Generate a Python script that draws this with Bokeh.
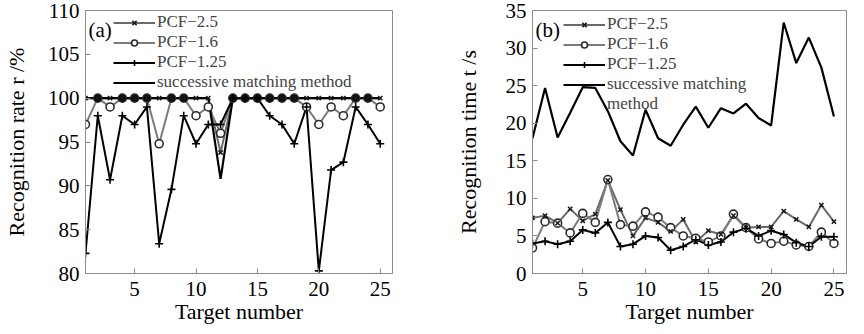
from bokeh.plotting import figure
from bokeh.layouts import row
from bokeh.models import Legend, LegendItem, Label, FixedTicker
from bokeh.embed import file_html
from bokeh.resources import INLINE

# ---------------- data ----------------
targets = list(range(1, 26))

series_names = ["PCF\u22122.5", "PCF\u22121.6", "PCF\u22121.25", "successive matching method"]
series_names_b = ["PCF\u22122.5", "PCF\u22121.6", "PCF\u22121.25", "successive matching", "method"]

rate_pcf25 = [100, 100, 100, 100, 100, 100, 100, 100, 100, 100, 100, 93.8, 100,
              100, 100, 100, 100, 100, 100, 100, 100, 100, 100, 100, 100]
rate_pcf16 = [97, 100, 99, 100, 100, 100, 94.8, 100, 100, 98, 99, 96, 100,
              100, 100, 100, 100, 100, 99, 97, 99, 98, 100, 100, 99]
rate_pcf125 = [82.3, 98, 90.7, 98, 97, 99, 83.4, 89.6, 98, 94.8, 97, 97, 100,
               100, 100, 98, 97, 94.8, 99, 80.3, 91.8, 92.7, 99, 97, 94.8]
rate_smm = [100, 100, 100, 100, 100, 100, 100, 100, 100, 100, 100, 90.8, 100,
            100, 100, 100, 100, 100, 100, 100, 100, 100, 100, 100, 100]

time_pcf25 = [7.4, 7.7, 6.7, 8.6, 7.0, 7.9, 12.4, 8.5, 5.0, 7.4, 6.8, 5.6, 7.2,
              4.2, 5.7, 5.2, 7.7, 6.1, 6.2, 6.2, 8.3, 7.2, 6.2, 9.1, 6.9]
time_pcf16 = [3.4, 6.9, 6.7, 5.4, 8.0, 6.8, 12.5, 6.5, 6.3, 8.2, 7.5, 6.1, 5.0,
              4.7, 4.2, 5.0, 7.9, 6.1, 4.6, 4.0, 4.3, 3.8, 3.6, 5.5, 4.0]
time_pcf125 = [4.0, 4.3, 3.9, 4.3, 5.8, 5.4, 6.8, 3.6, 3.9, 5.0, 4.8, 3.1, 3.6,
               4.5, 3.8, 4.2, 5.5, 6.0, 5.0, 5.7, 5.2, 4.1, 3.6, 4.9, 4.9]
time_smm = [18.0, 24.7, 18.1, 21.4, 24.8, 24.7, 21.6, 17.6, 15.7, 21.8, 18.0, 17.0, 19.8,
            22.2, 19.4, 22.0, 21.3, 22.6, 20.7, 19.7, 33.4, 28.0, 31.4, 27.4, 20.9]

x_ticks = [5, 10, 15, 20, 25]
rate_ticks = [80, 85, 90, 95, 100, 105, 110]
time_ticks = [0, 5, 10, 15, 20, 25, 30, 35]

FONT = "Liberation Serif"
FRAME = "#8c8c8c"
TOP = 10
FRAME_BOTTOM = 274   # expected page y of the frame's bottom edge
FRAME_TOP = 8 + TOP
FRAME_H = FRAME_BOTTOM - FRAME_TOP


def make_panel(tag, ylabel, y_rng, y_ticks, s25, s16, s125, smm, fill_full,
               border_left, border_right, label_standoff, legend_names, legend_x,
               legend_y):
    p = figure(width=424, height=326, x_range=(1, 26), y_range=y_rng,
               output_backend="svg", toolbar_location=None,
               min_border_left=border_left, min_border_right=border_right,
               min_border_top=TOP, min_border_bottom=50)
    p.grid.visible = False
    p.outline_line_color = FRAME
    p.outline_line_width = 1
    p.background_fill_color = "white"
    p.border_fill_color = "white"

    p.xaxis.ticker = FixedTicker(ticks=x_ticks)
    p.yaxis.ticker = FixedTicker(ticks=y_ticks)
    for ax in (p.xaxis[0], p.yaxis[0]):
        ax.axis_line_color = FRAME
        ax.major_tick_line_color = FRAME
        ax.major_tick_in = 5
        ax.major_tick_out = 0
        ax.minor_tick_line_color = None
        ax.major_label_text_font = FONT
        ax.major_label_text_font_size = "21px"
        ax.major_label_text_color = "black"
        ax.axis_label_text_font = FONT
        ax.axis_label_text_font_size = "22px"
        ax.axis_label_text_font_style = "normal"
        ax.axis_label_text_color = "black"
    p.xaxis.axis_label = "Target number"
    p.xaxis.major_label_text_line_height = 0.9
    p.xaxis.axis_label_text_line_height = 0.9
    p.xaxis.major_label_standoff = 8
    p.xaxis.axis_label_standoff = 0
    p.yaxis.axis_label = ylabel
    p.yaxis.major_label_standoff = 6
    p.yaxis.axis_label_standoff = label_standoff

    # lines
    l25 = p.line(targets, s25, line_color="#6a6a6a", line_width=2)
    l16 = p.line(targets, s16, line_color="#7c7c7c", line_width=2)
    l125 = p.line(targets, s125, line_color="black", line_width=2)
    lsm = p.line(targets, smm, line_color="black", line_width=2.2)

    # markers
    if fill_full:
        fills = ["black" if v >= 100 else "white" for v in s16]
    else:
        fills = ["white"] * len(s16)
    m16 = p.scatter(targets, s16, marker="circle", size=8, line_color="#2a2a2a",
                    line_width=1.6, fill_color=fills)
    m25 = p.scatter(targets, s25, marker="x", size=6, line_color="#1a1a1a", line_width=1.6)
    m125 = p.scatter(targets, s125, marker="cross", size=8, line_color="black", line_width=1.6)

    items = [
        LegendItem(label=legend_names[0], renderers=[l25, m25]),
        LegendItem(label=legend_names[1], renderers=[l16, m16]),
        LegendItem(label=legend_names[2], renderers=[l125, m125]),
        LegendItem(label=legend_names[3], renderers=[lsm]),
    ]
    if len(legend_names) > 4:
        ghost = p.line(targets, smm, line_alpha=0)
        items.append(LegendItem(label=legend_names[4], renderers=[ghost]))
    leg = Legend(items=items, location=(legend_x, legend_y),
                 label_text_font=FONT, label_text_font_size="17px",
                 label_height=15, glyph_height=15, glyph_width=42,
                 label_standoff=2, spacing=0, padding=0, margin=0,
                 background_fill_alpha=0, border_line_alpha=0)
    p.add_layout(leg, "center")

    lab = Label(x=3, y=FRAME_H - 12, x_units="screen", y_units="screen", text=tag,
                text_font=FONT, text_font_size="21px", text_baseline="middle",
                text_color="black")
    p.add_layout(lab)
    return p


pa = make_panel("(a)", "Recognition rate r /%", (80, 110), rate_ticks,
                rate_pcf25, rate_pcf16, rate_pcf125, rate_smm, True,
                77, 32, 16, series_names, 28, FRAME_BOTTOM - 93)
pb = make_panel("(b)", "Recognition time t /s", (0, 35), time_ticks,
                time_pcf25, time_pcf16, time_pcf125, time_smm, False,
                108, 2, 22, series_names_b, 31, FRAME_BOTTOM - 115)

layout = row(pa, pb)
open("out.html", "w").write(file_html(layout, INLINE))
